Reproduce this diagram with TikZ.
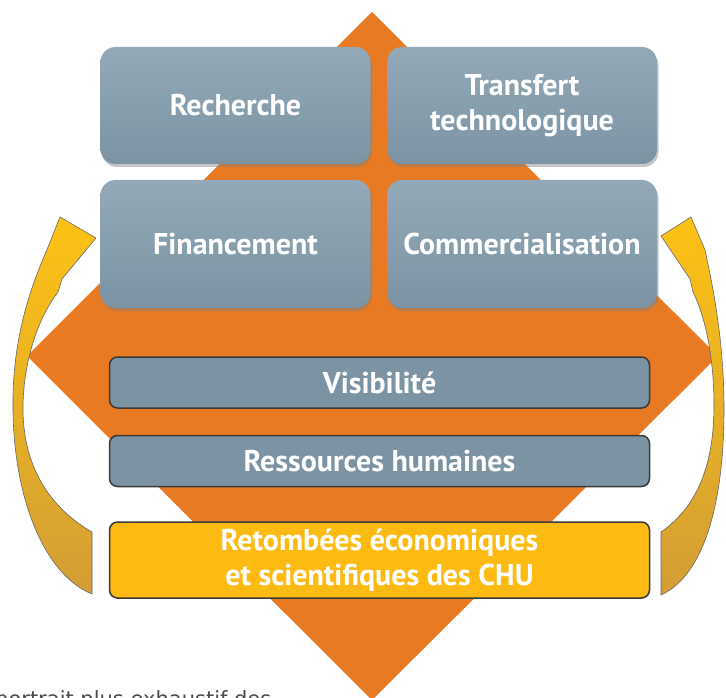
\documentclass[tikz,border=0pt]{standalone}
\usepackage{fontspec}
\setmainfont{PT Sans}
\newfontfamily\notefont{DejaVu Sans}
\usetikzlibrary{shadows}

\definecolor{chuorange}{HTML}{E87A24}
\definecolor{chublue}{HTML}{7B93A3}
\definecolor{chubluelt}{HTML}{93A9B7}
\definecolor{chuyellow}{HTML}{FDBA12}
\definecolor{arrowtop}{HTML}{FDC214}
\definecolor{arrowbot}{HTML}{D29E35}
\definecolor{chuline}{HTML}{3A3A3A}

\tikzset{
  label font/.style={text=white,font=\bfseries\fontsize{30}{35}\selectfont,align=center},
  bloc/.style={label font,rounded corners=15pt,top color=chubluelt,bottom color=chublue,
    minimum width=270pt,drop shadow={opacity=0.45,shadow xshift=1.5pt,shadow yshift=-3pt}},
  barre/.style={label font,rounded corners=8pt,fill=chublue,draw=chuline,line width=1.5pt,
    minimum width=540pt,minimum height=51pt},
  fleche/.style={top color=arrowtop,bottom color=arrowbot,draw=gray!80!black,line width=0.6pt},
}

\begin{document}
\begin{tikzpicture}[x=1pt,y=-1pt]
  \useasboundingbox (0,0) rectangle (726,698);
  \fill[chuorange] (372,12) -- (718,356) -- (372,700) -- (27,356) -- cycle;

  % yellow arrows
  \draw[fleche] (92,532) .. controls (45,505) and (22,460) .. (23,405)
    .. controls (24,360) and (38,318) .. (58,292) -- (62,279) -- (96,238) -- (60,217)
    -- (46,252) .. controls (25,300) and (12,350) .. (13,410)
    .. controls (14,500) and (45,575) .. (92,594) -- cycle;
  \draw[fleche] (661,532) .. controls (700,505) and (714,460) .. (714,405)
    .. controls (714,360) and (706,318) .. (693,292) -- (690,279) -- (661,236) -- (691,217)
    -- (705,250) .. controls (716,300) and (724,350) .. (724,410)
    .. controls (724,500) and (705,575) .. (661,595) -- cycle;

  \node[bloc,minimum height=117pt] (recherche) at (235.5,105.5) {Recherche};
  \node[bloc,minimum height=117pt] (transfert) at (522,105.5) {Transfert\\technologique};
  \node[bloc,minimum height=128pt] (financement) at (235.5,244) {Financement};
  \node[bloc,minimum height=128pt] (commerce) at (522,244) {Commercialisation};

  \node[barre] (visib) at (379.5,382.5) {Visibilité};
  \node[barre] (rh) at (379.5,461) {Ressources humaines};
  \node[barre,fill=chuyellow,minimum height=76pt] (retomb) at (379.5,560)
    {Retombées économiques\\et scientifiques des CHU};

  \node[anchor=base west,inner sep=0pt,text=black!70,font=\notefont\fontsize{21}{25}\selectfont]
    (note) at (-5,706) {portrait plus exhaustif des};
\end{tikzpicture}
\end{document}
